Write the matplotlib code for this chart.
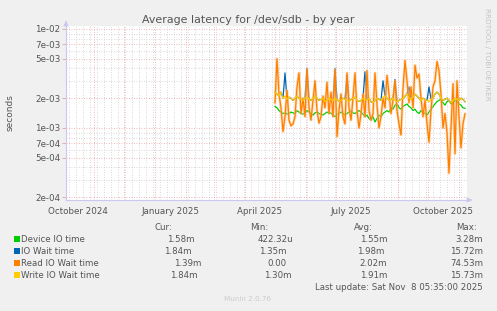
import datetime as dt
import numpy as np
import matplotlib
matplotlib.use("Agg")
import matplotlib.pyplot as plt
from matplotlib.patches import Rectangle

W, H = 497, 311

# samples every 2 days from 2025-05-01, values in ms
start = dt.datetime(2025, 5, 1)
read_ms = [1.8, 5.0, 2.2, 1.6, 0.92, 1.3, 2.4, 1.2, 1.05, 1.1, 1.3, 2.6,
           3.6, 1.4, 2.0, 1.3, 3.9, 1.6, 1.2, 1.9, 3.0, 1.5, 1.12, 1.3,
           2.1, 1.6, 2.9, 1.4, 2.3, 1.3, 3.9, 0.82, 1.5, 2.2, 1.3, 1.1,
           3.6, 1.6, 1.2, 2.0, 3.6, 1.5, 1.0, 1.4, 2.2, 1.3, 3.8, 1.5,
           1.2, 1.4, 3.6, 1.7, 1.0, 1.3, 2.0, 1.6, 3.4, 2.2, 1.4, 1.9,
           3.0, 1.5, 1.1, 0.85, 2.5, 4.8, 3.0, 1.8, 2.6, 1.6, 4.3, 3.2,
           3.5, 2.0, 1.3, 1.9, 1.1, 0.72, 1.5, 2.6, 3.0, 4.7, 3.8, 2.2,
           1.0, 1.4, 0.9, 0.35, 1.0, 2.8, 0.55, 3.0, 1.3, 0.63, 1.1, 1.39]
write_ms = [2.3, 2.2, 2.1, 2.3, 2.0, 2.1, 1.95, 2.05, 2.0, 1.9, 2.0, 2.1,
            2.0, 1.95, 1.9, 2.0, 2.05, 1.95, 1.9, 2.0, 2.1, 2.0, 1.9, 1.95,
            2.0, 1.85, 1.9, 2.0, 1.95, 1.9, 2.0, 1.95, 1.85, 1.9, 2.0, 1.95,
            1.9, 1.85, 1.95, 2.0, 2.05, 1.9, 1.85, 1.9, 2.0, 1.95, 1.9, 2.0,
            1.85, 1.8, 1.9, 2.0, 1.95, 1.9, 2.05, 2.1, 2.0, 1.9, 1.95, 2.0,
            1.9, 1.85, 1.9, 1.95, 2.0, 2.1, 2.2, 2.0, 1.95, 2.05, 2.2, 2.1,
            2.0, 1.9, 2.0, 1.95, 1.9, 1.85, 1.95, 2.0, 2.2, 2.3, 2.2, 2.0,
            1.9, 1.95, 2.0, 1.9, 1.8, 1.9, 2.0, 1.95, 1.9, 2.0, 1.95, 1.84]
iowait_ms = [2.3, 2.2, 2.1, 2.3, 2.0, 3.6, 1.95, 2.05, 2.0, 1.9, 2.0, 2.1,
             2.0, 1.95, 1.9, 2.0, 4.0, 1.95, 1.9, 2.0, 2.1, 2.0, 1.9, 1.95,
             2.0, 1.85, 1.9, 2.0, 1.95, 1.9, 4.0, 1.95, 1.85, 1.9, 2.0, 1.95,
             3.4, 1.85, 1.95, 2.0, 2.05, 1.9, 1.85, 1.9, 2.0, 3.7, 1.9, 2.0,
             1.85, 1.8, 1.9, 2.0, 1.95, 1.9, 3.0, 2.1, 2.0, 1.9, 1.95, 2.0,
             3.1, 1.85, 1.9, 1.95, 2.0, 2.1, 2.2, 2.6, 1.95, 2.05, 2.2, 2.1,
             2.0, 1.9, 2.0, 1.95, 1.9, 2.6, 1.95, 2.0, 2.2, 2.3, 2.2, 2.0,
             1.9, 1.95, 2.0, 1.9, 1.8, 1.9, 2.0, 1.95, 1.9, 2.0, 1.95, 1.84]
device_ms = [1.65, 1.6, 1.5, 1.45, 1.4, 1.42, 1.38, 1.4, 1.45, 1.42, 1.4, 1.5,
             1.45, 1.4, 1.38, 1.42, 1.5, 1.45, 1.4, 1.35, 1.42, 1.45, 1.4, 1.38,
             1.35, 1.4, 1.45, 1.4, 1.42, 1.35, 1.3, 1.38, 1.4, 1.45, 1.4, 1.35,
             1.4, 1.45, 1.5, 1.42, 1.4, 1.45, 1.5, 1.45, 1.38, 1.3, 1.35, 1.25,
             1.2, 1.3, 1.15, 1.25, 1.35, 1.3, 1.4, 1.45, 1.5, 1.45, 1.6, 1.55,
             1.7, 1.75, 1.6, 1.55, 1.65, 1.7, 1.75, 1.65, 1.6, 1.5, 1.55, 1.45,
             1.4, 1.5, 1.45, 1.4, 1.35, 1.45, 1.55, 1.65, 1.75, 1.85, 1.9, 1.95,
             1.8, 1.7, 1.85, 1.9, 1.75, 1.8, 1.9, 1.85, 1.75, 1.7, 1.6, 1.58]

legend_names = ["Device IO time", "IO Wait time", "Read IO Wait time", "Write IO Wait time"]
colors = ["#00cc00", "#0066b3", "#ff8000", "#ffcc00"]
cur_vals = ["1.58m", "1.84m", "1.39m", "1.84m"]
min_vals = ["422.32u", "1.35m", "0.00", "1.30m"]
avg_vals = ["1.55m", "1.98m", "2.02m", "1.91m"]
max_vals = ["3.28m", "15.72m", "74.53m", "15.73m"]

ytick_vals = [1e-2, 7e-3, 5e-3, 2e-3, 1e-3, 7e-4, 5e-4, 2e-4]
ytick_labels = ["1e-02", "7e-03", "5e-03", "2e-03", "1e-03", "7e-04", "5e-04", "2e-04"]
xlabel_text = ["October 2024", "January 2025", "April 2025", "July 2025", "October 2025"]

dates = [start + dt.timedelta(days=2 * i) for i in range(len(read_ms))]


def ms(v):
    return np.array(v) * 1e-3


def fx(x):
    return x / W


def fy(y):
    return 1 - y / H


txt = "#555555"
fig = plt.figure(figsize=(W / 100, H / 100), dpi=100, facecolor="#f0f0f0")
ax = fig.add_axes([fx(66), fy(200), fx(401), 174 / H])
ax.set_facecolor("white")
ax.set_yscale("log")
x0 = dt.datetime(2024, 10, 4)
ax.set_xlim(x0, x0 + dt.timedelta(days=401))
ax.set_ylim(10 ** (-2 - 171 / 99), 10 ** (-2 + 3 / 99))

# grid
red = "#e8a0a0"
grey = "#cccccc"
dots = (0, (1, 2))
d = dt.datetime(2024, 10, 7)
while d < x0 + dt.timedelta(days=401):
    ax.axvline(d, color=grey, lw=0.6, ls=dots, zorder=0)
    d += dt.timedelta(days=7)
for m in range(13):
    y, mo = 2024 + (10 + m) // 12, (10 + m) % 12 + 1
    ax.axvline(dt.datetime(y, mo, 1), color=red, lw=0.6, ls=dots, zorder=0)
for e in [-4, -3]:
    for k in range(1, 10):
        v = k * 10.0 ** e
        ax.axhline(v, color=red if k in (1, 2, 5, 7) else grey, lw=0.6, ls=dots, zorder=0)
ax.axhline(1e-2, color=red, lw=0.6, ls=dots, zorder=0)

ax.plot(dates, ms(device_ms), color=colors[0], lw=0.9, zorder=2)
ax.plot(dates, ms(iowait_ms), color=colors[1], lw=0.9, zorder=3)
ax.plot(dates, ms(read_ms), color="#ffc080", lw=2.0, alpha=0.6, zorder=4)
ax.plot(dates, ms(read_ms), color=colors[2], lw=0.9, zorder=5)
ax.plot(dates, ms(write_ms), color=colors[3], lw=0.9, zorder=6)

ax.set_yticks(ytick_vals)
ax.set_yticklabels(ytick_labels)
ax.yaxis.set_minor_locator(matplotlib.ticker.NullLocator())
label_dates = [dt.datetime(2024, 10, 16), dt.datetime(2025, 1, 16), dt.datetime(2025, 4, 16),
               dt.datetime(2025, 7, 16), dt.datetime(2025, 10, 16)]
ax.set_xticks(label_dates)
ax.set_xticklabels(xlabel_text)
ax.tick_params(axis="x", length=0, labelsize=6.3, colors=txt, pad=5)
ax.tick_params(axis="y", length=3, width=0.6, color=red, labelsize=6.3, labelcolor=txt, pad=1)
for s in ax.spines.values():
    s.set_visible(False)

# axis arrows
axc = "#c8c8f0"
fig.add_artist(plt.Line2D([fx(66), fx(66)], [fy(200), fy(24)], color=axc, lw=0.8))
fig.add_artist(plt.Line2D([fx(66), fx(470)], [fy(200), fy(200)], color=axc, lw=0.8))
ax.annotate("", xy=(fx(66), fy(18)), xytext=(fx(66), fy(25)), xycoords="figure fraction",
            arrowprops=dict(arrowstyle="-|>", color=axc, lw=0.8, mutation_scale=7))
ax.annotate("", xy=(fx(475), fy(200)), xytext=(fx(468), fy(200)), xycoords="figure fraction",
            arrowprops=dict(arrowstyle="-|>", color=axc, lw=0.8, mutation_scale=7))

fig.text(fx(248), fy(20), "Average latency for /dev/sdb - by year", ha="center", va="center",
         fontsize=7.9, color=txt)
fig.text(fx(10), fy(113), "seconds", rotation=90, ha="center", va="center", fontsize=6.5, color=txt)
fig.text(fx(487), fy(8), "RRDTOOL / TOBI OETIKER", rotation=270, ha="center", va="top",
         fontsize=5.2, color="#c4c4c4")

# legend table
fs = 6.2
hy = 227
fig.text(fx(163), fy(hy), "Cur:", ha="center", va="center", fontsize=fs, color=txt)
fig.text(fx(250), fy(hy), "Min:", ha="left", va="center", fontsize=fs, color=txt)
fig.text(fx(363), fy(hy), "Avg:", ha="center", va="center", fontsize=fs, color=txt)
fig.text(fx(477), fy(hy), "Max:", ha="right", va="center", fontsize=fs, color=txt)
rows = [239, 251, 263, 275]
cur_x = [195, 192, 201, 198]
min_x = [293, 287, 287, 292]
avg_x = [388, 384, 387, 387]
for i, ry in enumerate(rows):
    fig.add_artist(Rectangle((fx(14), fy(ry + 3)), 6 / W, 6 / H, transform=fig.transFigure,
                             facecolor=colors[i], edgecolor="none"))
    fig.text(fx(21), fy(ry), legend_names[i], ha="left", va="center", fontsize=fs, color=txt)
    fig.text(fx(cur_x[i]), fy(ry), cur_vals[i], ha="right", va="center", fontsize=fs, color=txt)
    fig.text(fx(min_x[i]), fy(ry), min_vals[i], ha="right", va="center", fontsize=fs, color=txt)
    fig.text(fx(avg_x[i]), fy(ry), avg_vals[i], ha="right", va="center", fontsize=fs, color=txt)
    fig.text(fx(483), fy(ry), max_vals[i], ha="right", va="center", fontsize=fs, color=txt)
fig.text(fx(483), fy(288), "Last update: Sat Nov  8 05:35:00 2025", ha="right", va="center",
         fontsize=fs, color=txt)
fig.text(fx(248), fy(299), "Munin 2.0.76", ha="center", va="center", fontsize=5.2, color="#cccccc")

fig.savefig("out.png", dpi=100, facecolor=fig.get_facecolor())
